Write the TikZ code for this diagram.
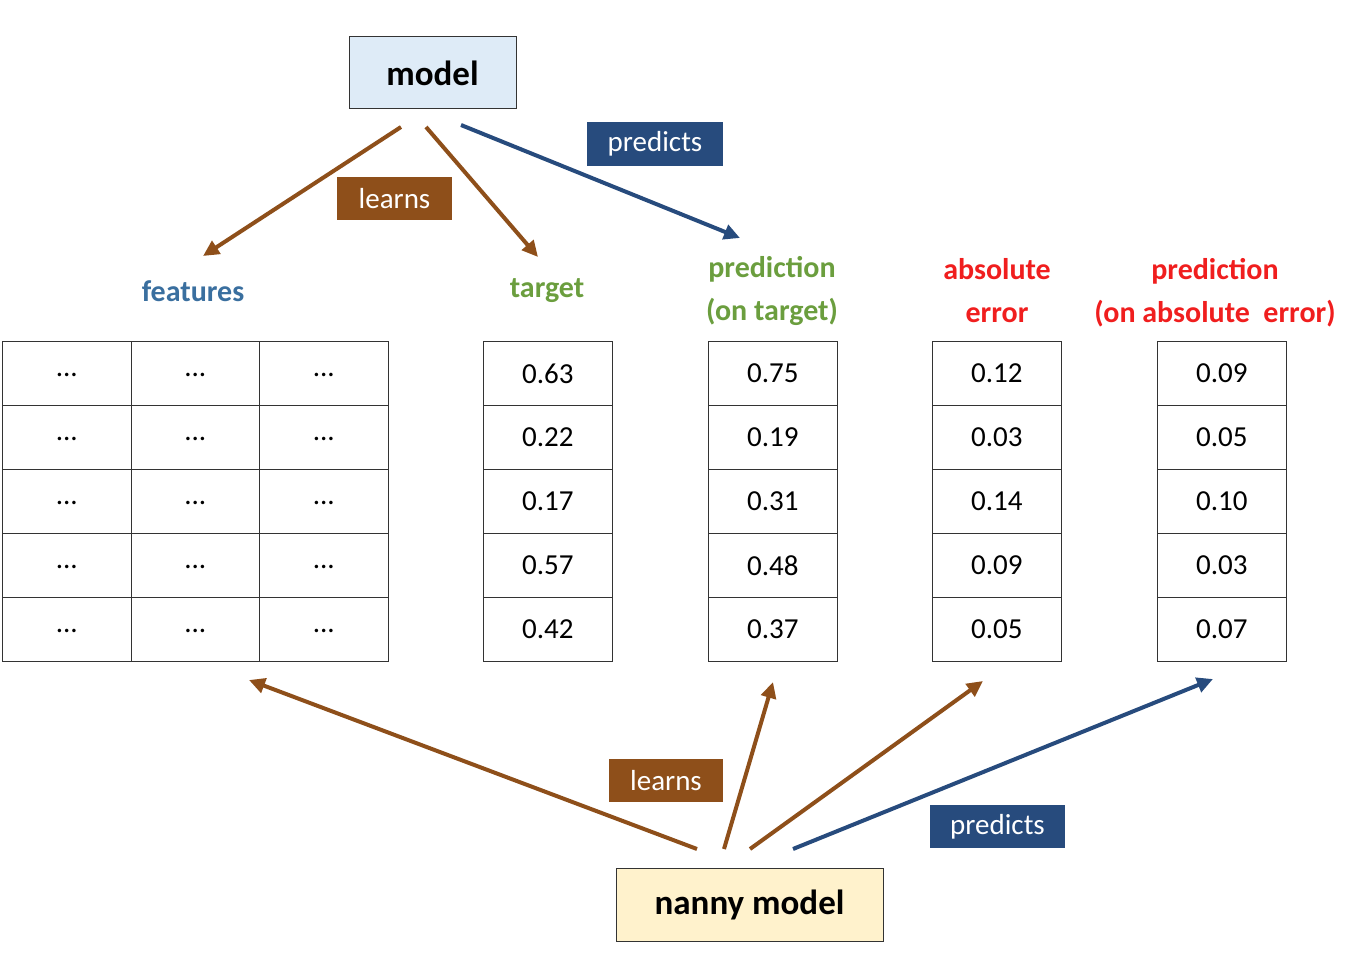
\documentclass[tikz,border=0pt]{standalone}
\usepackage{fontspec}
\setmainfont{Carlito}
\usetikzlibrary{arrows.meta}
\definecolor{brn}{HTML}{8E4F1A}
\definecolor{nav}{HTML}{274B7D}
\definecolor{fblue}{HTML}{3A6F9F}
\definecolor{grn}{HTML}{6B9E3E}
\definecolor{rd}{HTML}{F01E1E}
\definecolor{mfill}{HTML}{DEEBF7}
\definecolor{nfill}{HTML}{FFF2CC}
\begin{document}
\begin{tikzpicture}[x=1pt,y=-1pt,
  cell/.style={draw=black!80,line width=1pt,minimum width=128.5pt,minimum height=64pt,inner sep=0pt,font=\fontsize{29}{30}\selectfont,anchor=north west},
  hdr/.style={font=\bfseries\fontsize{30}{43}\selectfont,align=center},
  tag/.style={text=white,font=\fontsize{29}{30}\selectfont,inner sep=0pt},
  arrB/.style={draw=brn,line width=4pt,-{Triangle[length=16pt,width=15pt]}},
  arrN/.style={draw=nav,line width=4pt,-{Triangle[length=16pt,width=15pt]}},
  mbox/.style={draw=black!80,line width=1pt,font=\bfseries\fontsize{35}{38}\selectfont,inner sep=0pt}]
\useasboundingbox (0,0) rectangle (1372,968);
\node[mbox,fill=mfill,minimum width=167pt,minimum height=72pt] (model) at (432.5,73) {model};
\node[mbox,fill=nfill,minimum width=267pt,minimum height=73pt] (nanny) at (749.5,904.5) {nanny model};
\node[hdr,text=fblue] (hf) at (193,291) {features};
\node[hdr,text=grn] (ht) at (547,291) {target};
\node[hdr,text=grn] (hp) at (772,291) {prediction\\(on target)};
\node[hdr,text=rd] (ha) at (997,291) {absolute\\error};
\node[hdr,text=rd] (hq) at (1215,293) {prediction\\(on absolute~~error)};
% features grid
\foreach \r in {0,...,4}{\foreach \c in {0,1,2}{
  \node[cell] (f\r\c) at ({2+\c*128.5},{341+\r*64}) {\raisebox{-7pt}{...}};}}
\foreach \x/\n/\vals in {483/t/{0.63,0.22,0.17,0.57,0.42},708/p/{0.75,0.19,0.31,0.48,0.37},932/a/{0.12,0.03,0.14,0.09,0.05},1157/q/{0.09,0.05,0.10,0.03,0.07}}{
  \foreach \v [count=\i from 0] in \vals {\node[cell] (\n\i) at (\x,{341+\i*64}) {\v};}}
% top arrows
\coordinate (m1) at (401,127); \coordinate (e1) at (203,256);
\coordinate (m2) at (426,127); \coordinate (e2) at (538,257);
\coordinate (m3) at (461,125); \coordinate (e3) at (740,238);
\draw[arrB] (m1)--(e1);
\draw[arrB] (m2)--(e2);
\draw[arrN] (m3)--(e3);
\node[tag,fill=brn,minimum width=115pt,minimum height=43pt] (l1) at (394.5,198.5) {learns};
\node[tag,fill=nav,minimum width=136pt,minimum height=44pt] (p1) at (655,144) {predicts};
% bottom arrows
\coordinate (n1) at (697,849); \coordinate (b1) at (249,680);
\coordinate (n2) at (724,849); \coordinate (b2) at (773,682);
\coordinate (n3) at (750,849); \coordinate (b3) at (983,681);
\coordinate (n4) at (793,849); \coordinate (b4) at (1213,679);
\draw[arrB] (n1)--(b1);
\draw[arrB] (n2)--(b2);
\draw[arrB] (n3)--(b3);
\draw[arrN] (n4)--(b4);
\node[tag,fill=brn,minimum width=114pt,minimum height=43pt] (l2) at (666,780.5) {learns};
\node[tag,fill=nav,minimum width=135pt,minimum height=43pt] (p2) at (997.5,826.5) {predicts};
\end{tikzpicture}
\end{document}
